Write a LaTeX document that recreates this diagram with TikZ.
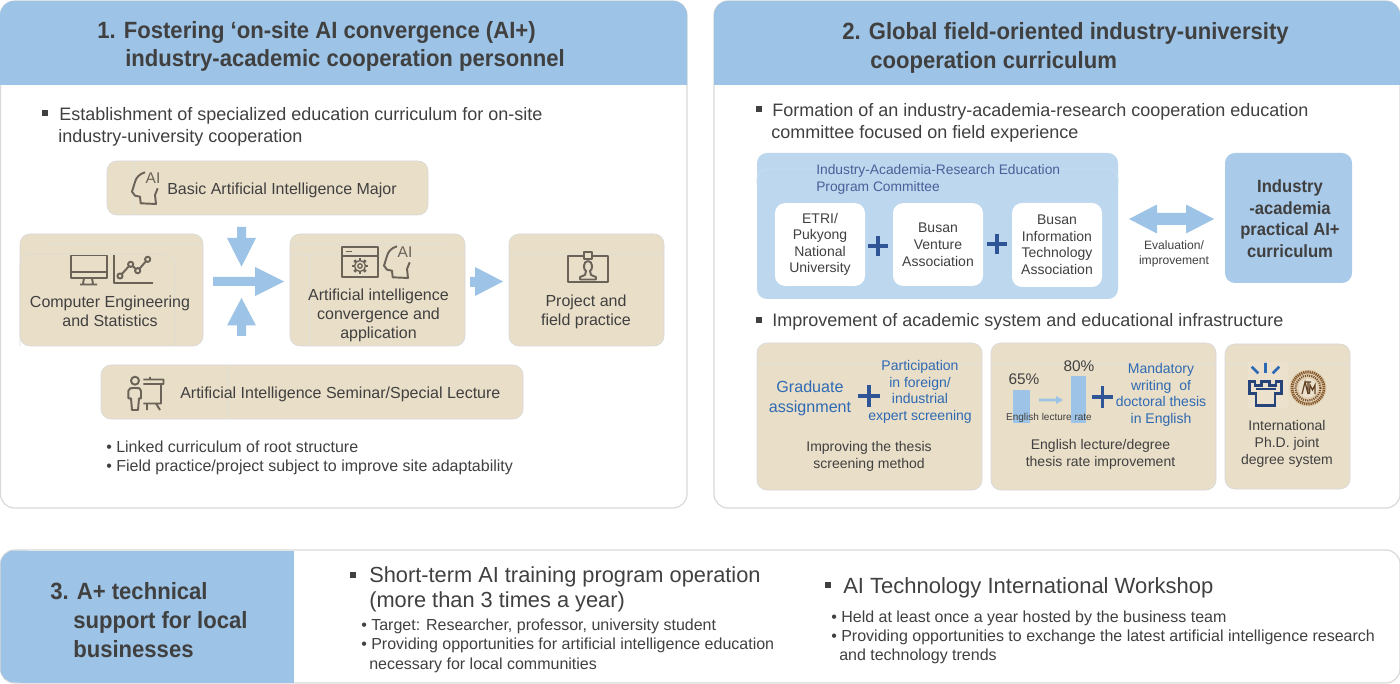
\documentclass[tikz,border=0pt]{standalone}
\usepackage{fontspec}
\setmainfont{Liberation Sans}[BoldFeatures={FakeStretch=0.94}]
\definecolor{hdr}{HTML}{9DC3E6}
\definecolor{lblue}{HTML}{BDD7EE}
\definecolor{tan}{HTML}{E9DEC8}
\definecolor{ink}{HTML}{404040}
\definecolor{icon}{HTML}{6B6358}
\definecolor{edge}{HTML}{D9D9D9}
\definecolor{ghost}{HTML}{DFDDD6}
\definecolor{plusc}{HTML}{2F5597}
\definecolor{bluetxt}{HTML}{2E6AB3}
\definecolor{navy}{HTML}{4A5F98}
\newcommand\fs[2]{\fontsize{\the\dimexpr#1pt*3/4\relax}{\the\dimexpr#2pt*3/4\relax}\selectfont}
\tikzset{
  x=0.75pt,y=-0.75pt,
  panel/.style={draw=edge,line width=0.9pt,fill=white,rounded corners=10.5pt},
  tanbox/.style={fill=tan,draw=edge,line width=0.5pt,rounded corners=7.5pt},
  ghostline/.style={draw=ghost,line width=0.5pt,rounded corners=7.5pt},
  whitebox/.style={fill=white,rounded corners=7.5pt},
  blockarrow/.style={fill=hdr,draw=none},
  tl/.style={anchor=west,inner sep=0pt,align=left,text=ink},
  tc/.style={anchor=center,inner sep=0pt,align=center,text=ink},
  iconline/.style={draw=icon,line width=1.45pt,line join=round},
  plusline/.style={draw=plusc,line width=2.6pt},
  sqb/.style={fill=ink},
  headicon/.pic={
    \draw[iconline] (14,0.3) .. controls (8,2) and (5,6) .. (4,10) -- (1,19.7) -- (4,23.7) -- (9,24.7) -- (9.7,31.3) -- (25,32) -- (24,23) -- (26.7,16.3);
    \node[inner sep=0pt,text=icon,font=\fs{15.5}{15.5}] (-ailabel) at (22,6.5) {AI};
  },
}
\begin{document}
\begin{tikzpicture}
\useasboundingbox (0,0) rectangle (1400,684);
% ---------- panel 1
\draw[panel] (0.5,1) rectangle (687,508);
\fill[hdr] (0,85) [rounded corners=10.5pt] -- (0,1) -- (687,1) [sharp corners] -- (687,85) -- cycle;
\node[tl,font=\fs{23.5}{28.5}\bfseries] (title1) at (97,46.5) {1. Fostering ‘on-site AI convergence (AI+)\\\hspace*{21pt}industry-academic cooperation personnel};
\fill[sqb] (42,110) rectangle (48,116);
\node[tl,font=\fs{18}{22}] (sub1) at (59,127) {Establishment of specialized education curriculum for on-site\\\hspace*{-0.75pt}industry-university cooperation};
% tan boxes
\draw[tanbox] (107,161) rectangle (428,215);
\draw[ghostline] (134,215) -- (134,161);
\draw[tanbox] (20,234) rectangle (203,346);
\draw[ghostline] (20,346) -- (20,254) -- (175,254) -- (175,346);
\draw[ghostline] (48,244) -- (203,244);
\draw[tanbox] (290,234) rectangle (465,346);
\draw[ghostline] (290,254) -- (465,254);
\draw[ghostline] (309,346) -- (309,254);
\draw[ghostline] (290,244) -- (445,244);
\draw[tanbox] (509,234) rectangle (664,346);
\draw[ghostline] (509,254) -- (664,254);
\draw[tanbox] (101,365) rectangle (523,419);
\draw[ghostline] (228,365) -- (228,419);
% icons
\pic (headA) at (131,172) {headicon};
\pic (headB) at (383,246) {headicon};
% monitor + chart
\draw[iconline] (71,255.5) rectangle (107,278);
\draw[iconline] (71,272) -- (107,272) (84,278) -- (83,284) (92,278) -- (93,284) (80,284.5) -- (97,284.5);
\draw[iconline] (113.7,255.3) -- (113.7,282.7) -- (153.3,282.7);
\draw[iconline] (120,276) -- (130.7,264.3) -- (137.7,270.7) -- (147.7,259.3);
\foreach \p in {(120,276),(130.7,264.3),(137.7,270.7),(147.7,259.3)} \draw[iconline,fill=tan] \p circle[radius=2.6];
% window + gear
\draw[iconline] (342.3,247.3) rectangle (377.7,277.3);
\draw[iconline] (342.3,255.7) -- (377.7,255.7) (345.7,251.5) -- (351.7,251.5);
\draw[iconline,line width=1pt] (360,266) circle[radius=5.5] (360,266) circle[radius=2.2];
\foreach \a in {0,45,...,315} \draw[iconline,line width=2pt] (360,266) ++(\a:5.5) -- ++(\a:2.5);
% badge
\draw[iconline] (567.7,255.7) rectangle (608.3,282.3);
\draw[iconline,fill=tan] (584,251.7) rectangle (591.7,259.3);
\draw[iconline] (588,261) .. controls (583,261) and (583,270) .. (586,271) -- (585,275) -- (580,277) -- (580,279.5) -- (596,279.5) -- (596,277) -- (591,275) -- (590,271) .. controls (593,270) and (593,261) .. (588,261);
% teacher + board
\draw[iconline] (135,380.7) circle[radius=4];
\draw[iconline] (128.3,398.3) -- (128.3,391) .. controls (128.3,388) and (131,388) .. (135,388) .. controls (139,388) and (141,388) .. (141,391) -- (141,398.3) -- (139,398.3) -- (138,410) -- (132,410) -- (131,398.3) -- cycle;
\draw[iconline] (143.3,379.5) -- (163.5,379.5) -- (163.5,384) -- (143.3,384) (150,377) -- (150,379.5) (161,384) -- (161,403.5) -- (143.3,403.5) (147,403.5) -- (147,410) (156,403.5) -- (160,410);
% block arrows
\fill[blockarrow] (237,227) -- (246,227) -- (246,238) -- (256,238) -- (241.5,266.7) -- (227,238) -- (237,238) -- cycle;
\fill[blockarrow] (237,336) -- (246,336) -- (246,325.5) -- (256,325.5) -- (241.5,298) -- (227,325.5) -- (237,325.5) -- cycle;
\fill[blockarrow] (213,277) -- (255,277) -- (255,267) -- (284,281.5) -- (255,296) -- (255,286) -- (213,286) -- cycle;
\fill[blockarrow] (470,277) -- (475,277) -- (475,267) -- (503,281.5) -- (475,296) -- (475,287) -- (470,287) -- cycle;
% box texts
\node[tl,font=\fs{16}{20}] (t1a) at (167,190.5) {Basic Artificial Intelligence Major};
\node[tc,font=\fs{16}{19}] (t1b) at (110,311.5) {Computer Engineering\\and Statistics};
\node[tc,font=\fs{16}{19}] (t1c) at (378.5,315) {Artificial intelligence\\convergence and\\application};
\node[tc,font=\fs{16}{19}] (t1d) at (586,312) {Project and\\field practice};
\node[tl,font=\fs{16}{20}] (t1e) at (180,394.5) {Artificial Intelligence Seminar/Special Lecture};
\node[tl,font=\fs{16}{19}] (t1f) at (106,457.5) {• Linked curriculum of root structure\\• Field practice/project subject to improve site adaptability};
% ---------- panel 2
\draw[panel] (714,1) rectangle (1400,508);
\fill[hdr] (714,85) [rounded corners=10.5pt] -- (714,1) -- (1400,1) [sharp corners] -- (1400,85) -- cycle;
\node[tl,font=\fs{23.5}{29}\bfseries] (title2) at (842,47.5) {2. Global field-oriented industry-university\\\hspace*{21pt}cooperation curriculum};
\fill[sqb] (756,106) rectangle (762,112);
\node[tl,font=\fs{18}{22}] (sub2) at (772,123) {Formation of an industry-academia-research cooperation education\\\hspace*{-0.75pt}committee focused on field experience};
\fill[lblue,rounded corners=7.5pt] (757,153) rectangle (1118,299);
\draw[ghostline,draw=lblue!80!white] (757,185) -- (757,169) -- (1118,169) -- (1118,185);
\node[tl,font=\fs{13.8}{17},text=navy] (com) at (816,179.5) {Industry-Academia-Research Education\\Program Committee};
\node[whitebox,minimum width=67.5pt,minimum height=62pt,inner sep=0pt,align=center,text=ink,font=\fs{14}{16.5}] (w1) at (820,244.5) {ETRI/\\Pukyong\\National\\University};
\node[whitebox,minimum width=67.5pt,minimum height=62pt,inner sep=0pt,align=center,text=ink,font=\fs{14}{17}] (w2) at (938,244.5) {Busan\\Venture\\Association};
\node[whitebox,minimum width=67.5pt,minimum height=63pt,inner sep=0pt,align=center,text=ink,font=\fs{14}{16.5}] (w3) at (1057,245) {Busan\\Information\\Technology\\Association};
\draw[plusline] (868,246) -- (888,246) (878,236) -- (878,256);
\draw[plusline] (987,244) -- (1007,244) (997,234) -- (997,254);
\fill[blockarrow] (1129,219) -- (1157,204.5) -- (1157,213) -- (1186,213) -- (1186,204.5) -- (1214,219) -- (1186,233.5) -- (1186,225) -- (1157,225) -- (1157,233.5) -- cycle;
\node[tc,font=\fs{12.1}{14.5}] (evl) at (1174,254) {Evaluation/\\improvement};
\fill[hdr!88!white,rounded corners=7.5pt] (1225,153) rectangle (1352,283);
\node[tc,font=\fs{17.7}{21.6}\bfseries] (cur) at (1290,218.5) {Industry\\-academia\\practical AI+\\curriculum};
\fill[sqb] (756,317) rectangle (762,323);
\node[tl,font=\fs{18}{22}] (sub3) at (772,322) {Improvement of academic system and educational infrastructure};
\draw[tanbox] (757,343) rectangle (982,490);
\draw[ghostline] (757,363) -- (982,363);
\draw[tanbox] (991,343) rectangle (1216,490);
\draw[ghostline] (991,363) -- (1216,363);
\draw[tanbox] (1225,344) rectangle (1350,489);
\draw[ghostline] (1225,364) -- (1350,364);
\node[tc,font=\fs{16.1}{20},text=bluetxt] (g1) at (810,398) {Graduate\\assignment};
\draw[plusline] (858,396) -- (880,396) (869,385) -- (869,407);
\node[tc,font=\fs{14}{16.7},text=bluetxt] (g2) at (920,392) {Participation\\in foreign/\\industrial\\expert screening};
\node[tc,font=\fs{14}{17}] (g3) at (869,456.5) {Improving the thesis\\screening method};
\fill[hdr] (1013,390) rectangle (1030,423);
\fill[hdr] (1071,376) rectangle (1086,423);
\fill[hdr] (1039,398.7) -- (1056,398.7) -- (1056,396) -- (1063,400) -- (1056,404) -- (1056,401.3) -- (1039,401.3) -- cycle;
\node[tc,font=\fs{15.4}{18}] (p65) at (1024,379) {65\%};
\node[tc,font=\fs{15.4}{18}] (p80) at (1079,366) {80\%};
\node[tc,font=\fs{10}{12}] (elr) at (1049,417.5) {English lecture rate};
\draw[plusline] (1092,397) -- (1113,397) (1102.5,386.5) -- (1102.5,407.5);
\node[tc,font=\fs{14}{16.7},text=bluetxt] (m1) at (1161,395) {Mandatory\\writing\ \ of\\doctoral thesis\\in English};
\node[tc,font=\fs{14}{17}] (g4) at (1100.5,454.5) {English lecture/degree\\thesis rate improvement};
% logos
\fill[tan!92!white] (1248,362) rectangle (1288,408);
\begin{scope}[draw=plusc!80!black,line width=1.9pt]
\draw[draw=bluetxt] (1265.5,363) -- (1265.5,373) (1251.7,366.7) -- (1258.3,373.3) (1279.3,366.7) -- (1272.7,373.3);
\draw (1249.3,381.7) -- (1255,381.7) -- (1255,385.7) -- (1261.7,385.7) -- (1261.7,381.7) -- (1269.3,381.7) -- (1269.3,385.7) -- (1276,385.7) -- (1276,381.7) -- (1281.7,381.7) -- (1281.7,393.3) -- (1275,393.3) -- (1275,405.7) -- (1256,405.7) -- (1256,393.3) -- (1249.3,393.3) -- cycle;
\draw[line width=1pt] (1255.5,389) -- (1275.5,389);
\end{scope}
\fill[tan!85!brown] (1308,388) circle[radius=18.5];
\draw[draw=brown!70!black,line width=2.2pt,dash pattern=on 1pt off 0.6pt] (1308,388) circle[radius=16];
\draw[draw=brown!60!black,line width=1.6pt,dash pattern=on 0.8pt off 0.8pt] (1308,388) circle[radius=12.5];
\fill[tan!95!white] (1308,388) circle[radius=9.5];
\draw[draw=brown!50!black,line width=0.9pt] (1302,394) -- (1305,382) -- (1308,394) (1305,382) -- (1311,382) (1308,382) -- (1308,394) (1309.5,394) -- (1310,385) -- (1312.5,390) -- (1315,385) -- (1315,394);
\node[tc,font=\fs{14}{17}] (g5) at (1287,444) {International\\Ph.D. joint\\degree system};
% ---------- panel 3
\draw[panel] (0.5,550) rectangle (1400,683);
\fill[hdr,rounded corners=10.5pt] (0.5,550.5) rectangle (40,682.5);
\fill[hdr] (20,550.5) rectangle (294,682.5);
\node[tl,font=\fs{23.5}{29}\bfseries] (title3) at (50,620) {3. A+ technical\\\hspace*{17.25pt}support for local\\\hspace*{17.25pt}businesses};
\fill[sqb] (350,572) rectangle (356,578);
\node[tl,font=\fs{21.8}{25}] (sh) at (369,589) {Short-term AI training program operation\\(more than 3 times a year)};
\node[tl,font=\fs{16}{19.5}] (sh2) at (361,645.5) {• Target: Researcher, professor, university student\\• Providing opportunities for artificial intelligence education\\\hspace*{6pt}necessary for local communities};
\fill[sqb] (825,582) rectangle (831,588);
\node[tl,font=\fs{22}{25}] (ws) at (843,587.5) {AI Technology International Workshop};
\node[tl,font=\fs{16}{19}] (ws2) at (831,637) {• Held at least once a year hosted by the business team\\• Providing opportunities to exchange the latest artificial intelligence research\\\hspace*{6pt}and technology trends};
\end{tikzpicture}
\end{document}
